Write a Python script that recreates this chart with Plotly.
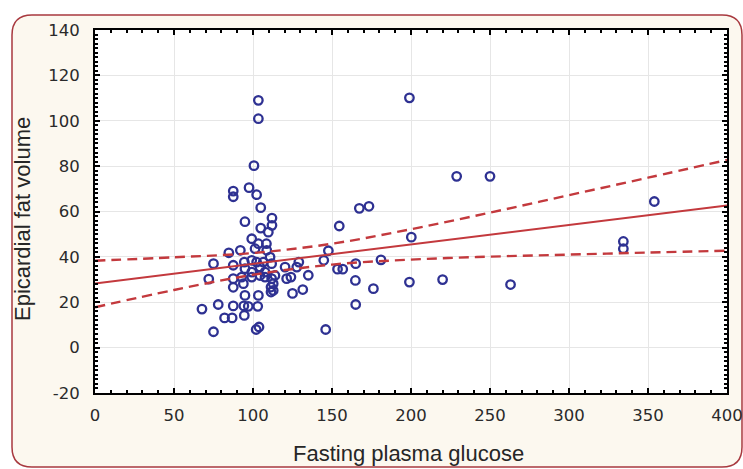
import plotly.graph_objects as go

# ---- data ----
glucose = [67.7, 72, 75, 75, 78, 82, 86.8, 84.7, 87.5, 87.5, 87.5, 87.5, 87.5, 87.5,
           92, 94.2, 94.5, 94.9, 93.9, 94.5, 94.9, 92.8, 94.9, 97.5, 99.2, 99.2, 99.2,
           99.2, 97, 100.6, 103.4, 103.4, 102.3, 104.9, 104.9, 103.4, 101.3, 102.3,
           104.4, 104.4, 103.4, 103, 102, 103.8, 106.5, 107.6, 108.5, 108.7, 109.7,
           110.8, 111.8, 111.8, 113.9, 112.8, 112.8, 111.4, 111.4, 112, 112, 107.6,
           120.3, 121.3, 124, 125, 127.7, 129, 131.5, 135, 144.8, 147.7, 146, 153.5,
           156.8, 154.6, 165, 164.8, 165, 167.3, 173.4, 176.2, 181, 199, 200.2, 199,
           220, 228.9, 250, 263, 334.4, 334.4, 354]
fat_volume = [17.0, 30.2, 37, 7, 19, 13.1, 13.1, 41.8, 36.3, 30.4, 26.6, 18.4, 69, 66.5,
              42.9, 18.4, 14.2, 23, 28.2, 37.7, 34.8, 31.1, 55.5, 70.5, 48, 38.5, 33.3,
              31.1, 18.2, 80.2, 109, 100.9, 67.4, 61.7, 52.7, 45.8, 43.6, 37.7,
              35.5, 31.8, 23, 18.2, 8.0, 9.1, 37.7, 33.3, 45.8, 42.9, 50.9,
              39.9, 37, 30.4, 31.8, 28.2, 25.2, 26.7, 24.5, 57.1, 53.9, 31.1,
              35.5, 30.4, 31.1, 23.9, 35.5, 37.7, 25.6, 31.9, 38.5, 42.7, 8, 34.6,
              34.6, 53.6, 37, 29.6, 19, 61.4, 62.3, 26, 38.7, 110.1, 48.7, 28.9,
              30, 75.5, 75.5, 27.8, 46.8, 43.6, 64.4]

fit_x = [0, 50, 100, 150, 200, 250, 300, 350, 400]
fit_y = [28.3, 32.6, 36.9, 41.2, 45.5, 49.8, 54.1, 58.4, 62.7]
upper_ci = [38.3, 39.8, 41.7, 45.8, 52.2, 59.5, 67.2, 74.9, 82.7]
lower_ci = [17.8, 25.4, 32.1, 36.6, 38.8, 40.1, 41.0, 41.9, 42.7]

x_ticks = [0, 50, 100, 150, 200, 250, 300, 350, 400]
y_ticks = [-20, 0, 20, 40, 60, 80, 100, 120, 140]

# ---- styling ----
W, H = 743, 469
L, R, T, B = 95, 727, 30, 393
BLUE = "#2e3192"
RED = "#c3393d"
FONT = "Liberation Sans, Arial, sans-serif"
TICKFONT = dict(family="DejaVu Sans, Verdana, sans-serif", size=16.5, color="#2a2a2a")

fig = go.Figure()
fig.add_trace(go.Scatter(
    x=glucose, y=fat_volume, mode="markers",
    marker=dict(symbol="circle-open", size=8.5, color=BLUE, line=dict(width=2.3, color=BLUE)),
    showlegend=False, hoverinfo="x+y"))
fig.add_trace(go.Scatter(x=fit_x, y=fit_y, mode="lines",
                         line=dict(color=RED, width=2), showlegend=False))
for band in (upper_ci, lower_ci):
    fig.add_trace(go.Scatter(x=fit_x, y=band, mode="lines",
                             line=dict(color=RED, width=2.4, dash="10px,6px", shape="spline"),
                             showlegend=False))

def px_x(p):
    return (p - L) / (R - L)

def px_y(p):
    return (B - p) / (B - T)

x0, x1 = px_x(12), px_x(742)
y0, y1 = px_y(467), px_y(15)
rx, ry = 20 / (R - L), 20 / (B - T)
path = (f"M {x0+rx},{y1} L {x1-rx},{y1} Q {x1},{y1} {x1},{y1-ry} "
        f"L {x1},{y0+ry} Q {x1},{y0} {x1-rx},{y0} L {x0+rx},{y0} "
        f"Q {x0},{y0} {x0},{y0+ry} L {x0},{y1-ry} Q {x0},{y1} {x0+rx},{y1} Z")

fig.update_layout(
    width=W, height=H,
    margin=dict(l=L, r=W - R, t=T, b=H - B, autoexpand=False),
    paper_bgcolor="white", plot_bgcolor="white",
    font=dict(family=FONT, size=17, color="#262626"),
    shapes=[
        dict(type="path", xref="paper", yref="paper", path=path,
             fillcolor="#fcf8ef", line=dict(color="#a8393f", width=1.5), layer="below"),
        dict(type="rect", xref="paper", yref="paper", x0=0, x1=1, y0=0, y1=1,
             fillcolor="white", line=dict(width=0), layer="below"),
    ],
    annotations=[
        dict(text="Fasting plasma glucose", xref="paper", yref="paper",
             x=px_x(408), y=px_y(468), xanchor="center", yanchor="bottom",
             showarrow=False, font=dict(size=22)),
        dict(text="Epicardial fat volume", xref="paper", yref="paper",
             x=px_x(22), y=px_y(219), xanchor="center", yanchor="middle",
             textangle=-90, showarrow=False, font=dict(size=22)),
    ],
)

axis_common = dict(
    showline=True, linecolor="black", linewidth=1.8, mirror="allticks",
    ticks="inside", ticklen=5, tickwidth=1.5, tickcolor="black",
    showgrid=True, gridcolor="#e6e6e6", gridwidth=1, zeroline=False,
    automargin=False, tickfont=TICKFONT, ticklabeloverflow="allow",
)
fig.update_xaxes(range=[0, 400], tickvals=x_ticks, ticktext=[str(v) for v in x_ticks],
                 minor=dict(dtick=10, ticks="inside", ticklen=3, tickcolor="black", showgrid=False),
                 ticklabelstandoff=6, **axis_common)
fig.update_yaxes(range=[-20, 140], tickvals=y_ticks, ticktext=[str(v) for v in y_ticks],
                 minor=dict(dtick=2, ticks="inside", ticklen=3, tickcolor="black", showgrid=False),
                 ticklabelstandoff=10, **axis_common)

fig.write_html("out.html", config={"displayModeBar": False},
               post_script="document.body.style.margin='0';document.body.style.overflow='hidden';")
